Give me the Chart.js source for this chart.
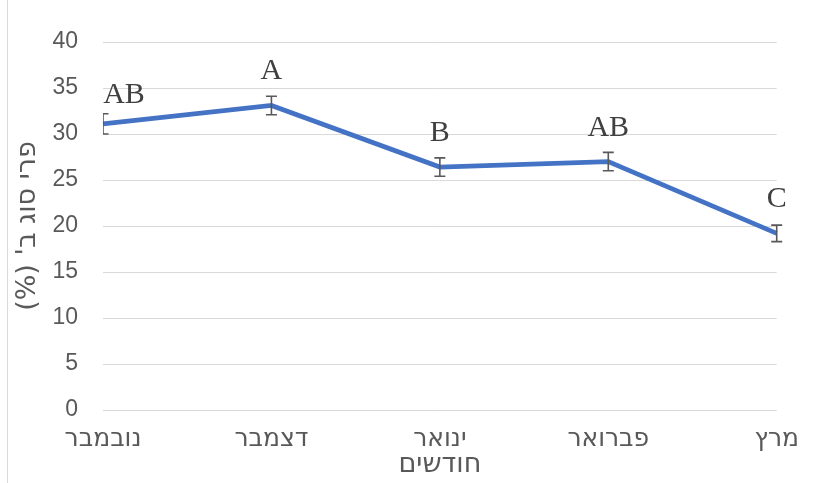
<!DOCTYPE html>
<html lang="he">
<head>
<meta charset="utf-8">
<script src="https://cdn.jsdelivr.net/npm/chart.js@4.4.1/dist/chart.umd.min.js"></script>
<style>
  html, body { margin: 0; padding: 0; background: #ffffff; }
  #wrap { position: relative; width: 813px; height: 483px; }
</style>
</head>
<body>
<div id="wrap"><canvas id="c" width="813" height="483"></canvas></div>
<script>
// Months (Nov–Mar), share of grade-B fruit (%), standard error, significance letters
const months = ['נובמבר', 'דצמבר', 'ינואר', 'פברואר', 'מרץ'];
const gradeB = [31.1, 33.1, 26.4, 27.0, 19.2];
const stdErr = [1.1, 1.0, 1.0, 1.0, 0.9];
const letters = ['AB', 'A', 'B', 'AB', 'C'];
const yTicks = [0, 5, 10, 15, 20, 25, 30, 35, 40];

const RLM = '\u200F';
const textGray = '#595959';
const hebFont = '"DejaVu Sans", "Liberation Sans", sans-serif';

// Frame line on the left edge of the chart
const frame = {
  id: 'frame',
  beforeDraw(chart) {
    const ctx = chart.ctx;
    ctx.save();
    ctx.strokeStyle = '#d9d9d9';
    ctx.lineWidth = 1;
    ctx.beginPath();
    ctx.moveTo(7.5, 0);
    ctx.lineTo(7.5, chart.height);
    ctx.stroke();
    ctx.restore();
  }
};

// Error bars and letter labels above each point
const annotate = {
  id: 'annotate',
  afterDatasetsDraw(chart) {
    const ctx = chart.ctx;
    const xs = chart.scales.x, ys = chart.scales.y;
    const area = chart.chartArea;
    ctx.save();
    ctx.beginPath();
    ctx.rect(area.left, 0, area.right - area.left + 12, chart.height);
    ctx.clip();
    ctx.strokeStyle = textGray;
    ctx.lineWidth = 1.6;
    gradeB.forEach((v, i) => {
      const x = xs.getPixelForValue(i);
      const yt = ys.getPixelForValue(v + stdErr[i]);
      const yb = ys.getPixelForValue(v - stdErr[i]);
      ctx.beginPath();
      ctx.moveTo(x, yt); ctx.lineTo(x, yb);
      ctx.moveTo(x - 5.5, yt); ctx.lineTo(x + 5.5, yt);
      ctx.moveTo(x - 5.5, yb); ctx.lineTo(x + 5.5, yb);
      ctx.stroke();
    });
    ctx.restore();

    ctx.save();
    ctx.fillStyle = '#404040';
    ctx.font = '30px "Liberation Serif", "Times New Roman", serif';
    ctx.textAlign = 'center';
    ctx.textBaseline = 'alphabetic';
    gradeB.forEach((v, i) => {
      let x = xs.getPixelForValue(i);
      let y = ys.getPixelForValue(v) - 26;
      if (i === 0) { x += 21; y += 5; }
      ctx.fillText(letters[i], x, y);
    });
    ctx.restore();
  }
};

new Chart(document.getElementById('c'), {
  type: 'line',
  data: {
    labels: months,
    datasets: [{
      data: gradeB,
      borderColor: '#4472C4',
      borderWidth: 4.8,
      pointRadius: 0,
      pointHoverRadius: 0,
      tension: 0,
      fill: false,
      clip: false
    }]
  },
  options: {
    responsive: false,
    animation: false,
    events: [],
    layout: { padding: { top: 42, right: 33, left: 0, bottom: 0 } },
    plugins: { legend: { display: false }, tooltip: { enabled: false } },
    scales: {
      x: {
        offset: false,
        grid: { display: false, drawTicks: false },
        border: { display: false },
        ticks: {
          color: textGray,
          padding: 14,
          maxRotation: 0,
          autoSkip: false,
          font: { family: hebFont, size: 25 }
        },
        title: {
          display: true,
          text: 'חודשים',
          color: textGray,
          padding: { top: 0, bottom: 2 },
          font: { family: hebFont, size: 27 }
        },
        afterFit(scale) { scale.height = 73; }
      },
      y: {
        min: 0,
        max: 40,
        afterBuildTicks(scale) { scale.ticks = yTicks.map(v => ({ value: v })); },
        grid: { color: '#d9d9d9', lineWidth: 1, drawTicks: false },
        border: { display: false },
        ticks: {
          color: textGray,
          padding: 25,
          font: { family: '"Liberation Sans", Arial, sans-serif', size: 23 }
        },
        title: {
          display: true,
          text: "פרי סוג ב' (%)" + RLM,
          color: textGray,
          padding: { top: 12, bottom: 0 },
          font: { family: hebFont, size: 27 }
        },
        afterFit(scale) { scale.width = 103; }
      }
    }
  },
  plugins: [frame, annotate]
});
</script>
</body>
</html>
